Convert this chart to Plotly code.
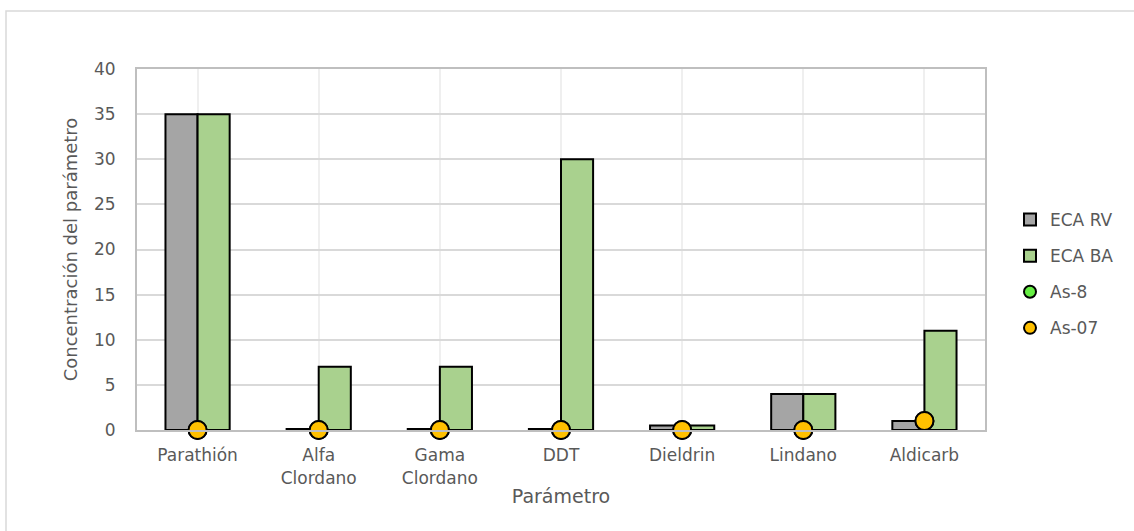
import plotly.graph_objects as go

categorias = ["Parathión", "Alfa<br>Clordano", "Gama<br>Clordano", "DDT", "Dieldrin", "Lindano", "Aldicarb"]
eca_rv = [35, 0.1, 0.1, 0.1, 0.5, 4, 1]
eca_ba = [35, 7, 7, 30, 0.5, 4, 11]
as_8 = [0, 0, 0, 0, 0, 0, 1]
as_07 = [0, 0, 0, 0, 0, 0, 1]

W, H = 1134, 531
L, R, T, B = 137, 985, 69, 430

fuente = "'DejaVu Sans', sans-serif"
gris_texto = "#595959"

fig = go.Figure()
fig.add_trace(go.Bar(
    x=categorias, y=eca_rv, name="ECA RV",
    marker=dict(color="#A5A5A5", line=dict(color="#000000", width=2)),
    legendgroup="a",
))
fig.add_trace(go.Bar(
    x=categorias, y=eca_ba, name="ECA BA",
    marker=dict(color="#A9D18E", line=dict(color="#000000", width=2)),
    legendgroup="b",
))
fig.add_trace(go.Scatter(
    x=categorias, y=as_8, name="As-8", mode="markers",
    marker=dict(color="#66EE44", size=18, line=dict(color="#000000", width=2)),
    cliponaxis=False, legendgroup="c",
))
fig.add_trace(go.Scatter(
    x=categorias, y=as_07, name="As-07", mode="markers",
    marker=dict(color="#FFC000", size=18, line=dict(color="#000000", width=2)),
    cliponaxis=False, legendgroup="d",
))

# outer chart frame (only top and left edges fall inside the page)
px = lambda v: (v - L) / (R - L)
py = lambda v: (B - v) / (B - T)
fig.add_shape(type="rect", xref="paper", yref="paper",
              x0=px(6), x1=px(1160), y0=py(11), y1=py(560),
              line=dict(color="#D9D9D9", width=1.5), fillcolor="rgba(0,0,0,0)", layer="below")

fig.update_layout(
    width=W, height=H,
    margin=dict(l=L, r=W - R, t=T, b=H - B),
    paper_bgcolor="white", plot_bgcolor="white",
    barmode="group", bargap=0.47, bargroupgap=0,
    font=dict(family=fuente, color=gris_texto, size=17),
    showlegend=True,
    legend=dict(x=px(1010), y=py(202), xanchor="left", yanchor="top",
                font=dict(size=17, color=gris_texto), tracegroupgap=11,
                itemwidth=30, itemsizing="constant"),
    xaxis=dict(
        showgrid=True, gridcolor="#EFEFEF", gridwidth=1.5,
        showline=True, linecolor="#BFBFBF", linewidth=2, mirror=True,
        ticks="", ticklabelstandoff=9,
        tickfont=dict(size=17, color=gris_texto),
        title=dict(text="Parámetro", font=dict(size=19, color=gris_texto), standoff=3),
    ),
    yaxis=dict(
        range=[0, 40], dtick=5,
        showgrid=True, gridcolor="#D9D9D9", gridwidth=1.5,
        showline=True, linecolor="#BFBFBF", linewidth=2, mirror=True,
        zeroline=False, ticks="", ticklabelstandoff=16,
        tickfont=dict(size=17, color=gris_texto),
        title=dict(text="Concentración del parámetro", font=dict(size=18, color=gris_texto), standoff=12),
    ),
)

fig.write_html("out.html")
